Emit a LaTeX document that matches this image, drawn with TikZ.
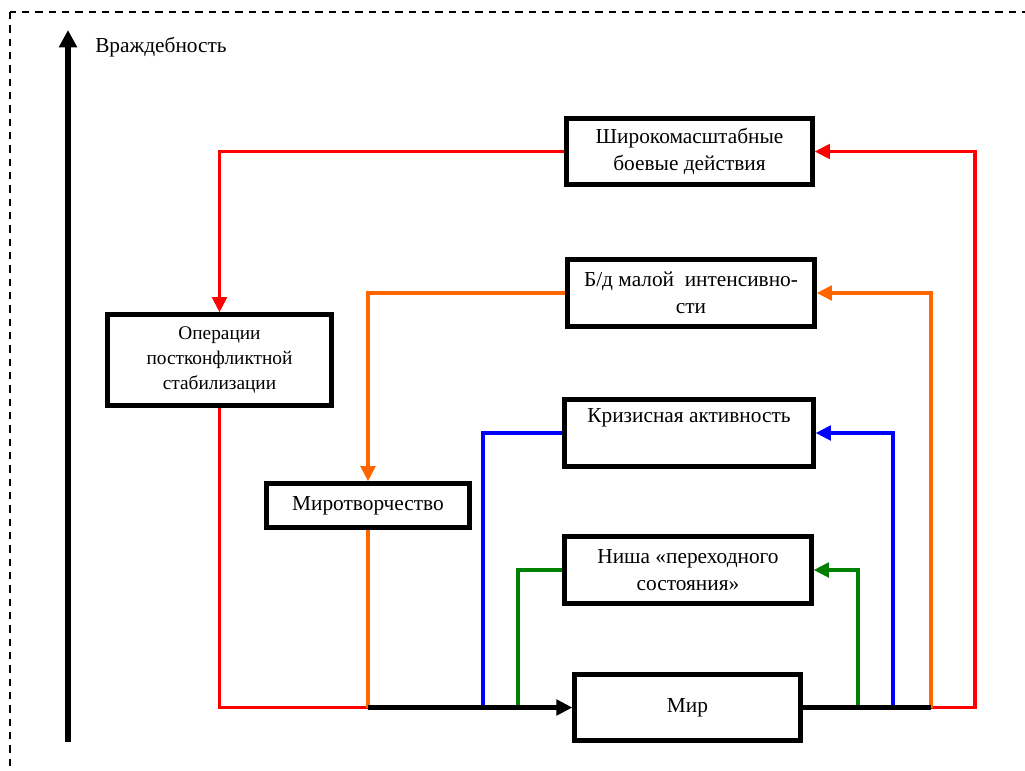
\documentclass[tikz,border=0pt]{standalone}
\usepackage{fontspec}
\setmainfont{Liberation Serif}
\usetikzlibrary{arrows.meta}
\definecolor{cred}{RGB}{255,0,0}
\definecolor{corange}{RGB}{255,102,0}
\definecolor{cblue}{RGB}{0,0,255}
\definecolor{cgreen}{RGB}{0,128,0}
\begin{document}
\begin{tikzpicture}[x=0.75pt,y=-0.75pt,
  box/.style={draw=black, line width=3.2pt, fill=white, align=center, inner sep=0pt,
    font=\fontsize{16}{20}\selectfont},
  txt/.style={align=center, inner sep=0pt, font=\fontsize{16}{20}\selectfont},
  conn/.style={line width=2.6pt},
  tip/.style={-{Triangle[length=11.5pt,width=11pt]}},
  mainline/.style={line width=3.2pt, black},
]
\clip (0,0) rectangle (1025,771);
\useasboundingbox (0,0) rectangle (1025,771);
% dashed frame
\draw[line width=1.8pt, dash pattern=on 5.5pt off 4.5pt] (10,12) rectangle (1045,800);
% hostility axis
\coordinate (axb) at (68,742);
\coordinate (axt) at (68,30);
\draw[line width=4pt, -{Triangle[length=13pt,width=13pt]}] (axb) -- (axt);
\node[txt, anchor=base west] (axlabel) at (95,52) {Враждебность};

% boxes
\node[box, minimum width=184.5pt, minimum height=49.5pt] (shir) at (689.5,151.5)
  {Широкомасштабные\\боевые действия};
\node[box, minimum width=185.25pt, minimum height=50.25pt] (bd) at (691,293)
  {Б/д малой\ \ интенсивно-\\сти};
\node[box, minimum width=168pt, minimum height=68.25pt, font=\fontsize{14.5}{18.75}\selectfont] (oper) at (219.5,360)
  {Операции\\постконфликтной\\стабилизации};
\node[box, minimum width=152.25pt, minimum height=33pt] (mirotv) at (368,505.5)
  {Миротворчество};
\node[box, minimum width=186.75pt, minimum height=50.25pt] (kriz) at (689,433) {};
\node[txt] (krizlabel) at (689,418) {Кризисная активность};
\node[box, minimum width=185.25pt, minimum height=50.25pt] (nisha) at (688,570)
  {Ниша «переходного\\состояния»};
\node[box, minimum width=169.5pt, minimum height=49.5pt] (mir) at (687.5,707.5) {Мир};

% junction coordinates on the peace line
\coordinate (jl) at (368,707.5);
\coordinate (jred) at (219.5,707.5);
\coordinate (jblue) at (483,707.5);
\coordinate (jgreen) at (518,707.5);
\coordinate (jr) at (931,707.5);
\coordinate (rred) at (975,707.5);
\coordinate (rblue) at (893,707.5);
\coordinate (rgreen) at (858,707.5);

% left side (return to peace)
\draw[conn, cred, tip] (shir.west) -| (oper.north);
\draw[conn, cred] (oper.south) -- (jred) -- (jl);
\draw[conn, corange, tip] (bd.west) -| (mirotv.north);
\draw[conn, corange] (mirotv.south) -- (jl);
\draw[conn, cblue] (kriz.west) -| (jblue);
\draw[conn, cgreen] (nisha.west) -| (jgreen);

% right side (escalation)
\draw[conn, cred, tip] (jr) -- (rred) |- (shir.east);
\draw[conn, corange, tip] (jr) |- (bd.east);
\draw[conn, cblue, tip] (rblue) |- (kriz.east);
\draw[conn, cgreen, tip] (rgreen) |- (nisha.east);

% main black line
\draw[mainline, -{Triangle[length=12pt,width=11.5pt]}] (jl) -- (mir.west);
\draw[mainline] (mir.east) -- (jr);
\end{tikzpicture}
\end{document}
